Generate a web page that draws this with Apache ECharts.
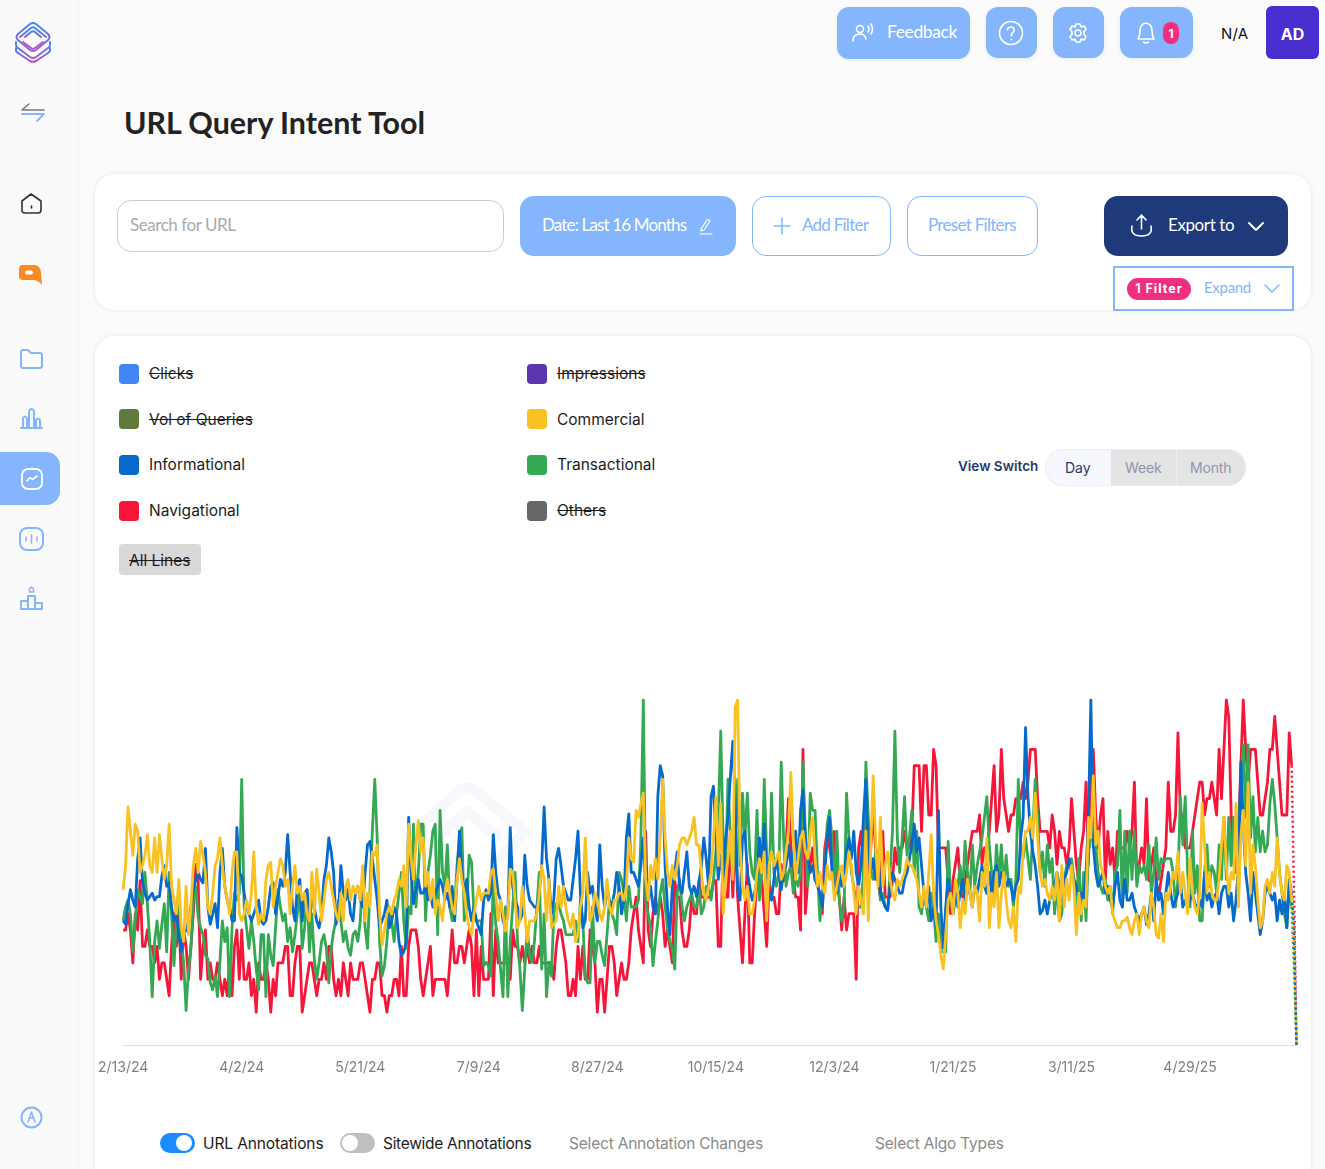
<!DOCTYPE html>
<html>
<head>
<meta charset="utf-8">
<title>URL Query Intent Tool</title>
<script src="https://cdn.jsdelivr.net/npm/echarts@6/dist/echarts.min.js"></script>
<style>
html,body{margin:0;padding:0;width:1325px;height:1169px;overflow:hidden;background:#fbfbfb;font-family:Lato,sans-serif;color:#222}
.a{position:absolute;box-sizing:border-box}
.t{position:absolute;white-space:nowrap;line-height:1}
.btn{position:absolute;box-sizing:border-box;background:#84b5fd;border-radius:12px;box-shadow:0 1px 4px rgba(0,0,0,.08)}
.ol{position:absolute;box-sizing:border-box;background:#fff;border:1px solid #84b5fd;border-radius:14px}
.card{position:absolute;box-sizing:border-box;left:95px;width:1216px;background:#fff;border-radius:20px;box-shadow:0 0 5px rgba(0,0,0,.09)}
.sw{position:absolute;width:20px;height:20px;border-radius:4px}
.lg{position:absolute;white-space:nowrap;line-height:1;font:15.5px Inter,sans-serif;color:#1c1c1c}
.off{text-decoration:line-through}
svg{position:absolute;overflow:visible}
.ic{fill:none;stroke:#84b5fd;stroke-width:2;stroke-linecap:round;stroke-linejoin:round}
.wh{fill:none;stroke:#fff;stroke-width:1.6;stroke-linecap:round;stroke-linejoin:round}
</style>
</head>
<body>
<!-- sidebar -->
<div class="a" style="left:0;top:0;width:76px;height:1169px;background:#fafafa;box-shadow:2px 0 6px rgba(0,0,0,.04)"></div>
<svg style="left:15px;top:22px" width="36" height="40" viewBox="0 0 36 40">
  <defs><linearGradient id="lg" x1="0" y1="0" x2="0" y2="1"><stop offset="0" stop-color="#3f8cf5"/><stop offset="1" stop-color="#b154c8"/></linearGradient></defs>
  <g fill="none" stroke="url(#lg)" stroke-width="2" stroke-linecap="round" stroke-linejoin="round">
    <path d="M15 2 Q18 0 21 2 L33 12 Q36 15 33 18 L21 28 Q18 30 15 28 L3 18 Q0 15 3 12 Z"/>
    <path d="M10 15 L16 10 Q18 8.500 20 10 L26 15"/>
    <path d="M5 15 L16 6 Q18 4.500 20 6 L31 15 M8 20 L16 26 Q18 27.500 20 26 L28 20"/>
    <path d="M1 20 V23 Q1 25 3 26 L15 35 Q18 37 21 35 L33 26 Q35 25 35 23 V20"/>
    <path d="M1 26 V29 Q2 30 3 31 L15 39 Q18 40.500 21 39 L33 31 Q34 30 35 29 V26"/>
  </g>
</svg>
<svg style="left:21px;top:102px" width="24" height="20"><path d="M8 2 L1 8 H23" fill="none" stroke="#777" stroke-width="1.6" stroke-linecap="round" stroke-linejoin="round"/><path d="M1 12 H23 L16 19" fill="none" stroke="#84b5fd" stroke-width="1.8" stroke-linecap="round" stroke-linejoin="round"/></svg>
<svg style="left:21px;top:193px" width="21" height="21"><path d="M1 8 L10 1 L20 8 V17 Q20 20 17 20 H4 Q1 20 1 17 Z M10.5 13 V15" fill="none" stroke="#333" stroke-width="1.6" stroke-linejoin="round" stroke-linecap="round"/></svg>
<svg style="left:19px;top:264px" width="24" height="22"><path d="M4 1 H16 Q21 2 22 8 L23 21 Q19 16 14 16 H4 Q0 16 0 12 V5 Q0 1 4 1 Z" fill="#f88a24"/><rect x="6" y="6.5" width="8" height="4" rx="2" fill="#fff"/></svg>
<svg class="ic" style="left:20px;top:349px" width="23" height="20"><path d="M1 3 Q1 1 3 1 H8 L11 4 H20 Q22 4 22 6 V17 Q22 19 20 19 H3 Q1 19 1 17 Z"/></svg>
<svg class="ic" style="left:20px;top:407px" width="23" height="22"><path d="M1 21 H22 M3 21 V11 Q5 8 7 11 V21 M9 21 V4 Q11.500 0 14 4 V21 M16 21 V13 Q18 10 20 13 V21"/></svg>
<div class="a" style="left:0;top:452px;width:60px;height:53px;background:#84b5fd;border-radius:0 14px 14px 0"></div>
<svg class="wh" style="left:21px;top:468px" width="22" height="22" viewBox="0 0 22 22"><rect x="1" y="1" width="20" height="20" rx="6" stroke-width="1.8"/><path d="M6 13 L9 9.500 L11.500 11.500 L16 8"/></svg>
<svg class="ic" style="left:19px;top:527px" width="25" height="24"><rect x="1" y="1" width="23" height="22" rx="7"/><path d="M7 10 V14 M12.500 8 V16 M18 10 V14" stroke-width="1.500"/></svg>
<svg class="ic" style="left:20px;top:586px" width="23" height="24"><path d="M1 23 H22 V17 H15 V10 H8 V15 H1 Z M8 15 V23 M15 17 V23"/><path d="M11.500 1 L13.500 3 V6 H9.500 V3 Z" stroke-width="1.500"/></svg>
<svg class="ic" style="left:20px;top:1106px" width="23" height="23"><circle cx="11.500" cy="11.500" r="10"/><path d="M8 16 L11.500 6 L15 16 M9.500 12 H13.500" stroke-width="1.500"/></svg>

<!-- top bar -->
<div class="btn" style="left:837px;top:7px;width:133px;height:52px"></div>
<svg class="wh" style="left:852px;top:23px" width="24" height="20"><circle cx="8" cy="6" r="3.500"/><path d="M1 18 Q1 11 8 11 Q13 11 14 16 M16 3 Q18 6 16 9 M19 1 Q22 6 19 11"/></svg>
<div class="t" style="left:887px;top:23px;font-size:17.5px;letter-spacing:-.4px;color:#fff">Feedback</div>
<div class="btn" style="left:986px;top:7px;width:51px;height:51px"></div>
<svg class="wh" style="left:998px;top:20px" width="26" height="26"><circle cx="13" cy="13" r="11.500"/><path d="M9.500 10 Q10 6.500 13.500 7 Q17 8 16 11 Q15 12.500 13.500 14 V16 M13.500 19.500 V19.700"/></svg>
<div class="btn" style="left:1053px;top:7px;width:51px;height:51px"></div>
<svg class="wh" style="left:1067px;top:22px" width="22" height="22" viewBox="0 0 22 22"><circle cx="11" cy="11" r="3"/><path d="M9 2 H13 L14 5 L17 4 L19 7.500 L17 9.500 V12.500 L19 14.500 L17 18 L14 17 L13 20 H9 L8 17 L5 18 L3 14.500 L5 12.500 V9.500 L3 7.500 L5 4 L8 5 Z"/></svg>
<div class="btn" style="left:1120px;top:7px;width:73px;height:51px"></div>
<svg class="wh" style="left:1135px;top:21px" width="22" height="24"><path d="M3 18 Q5 15 5 10 Q5 3 11 2 Q17 3 17 10 Q17 15 19 18 Z M8.500 21 Q11 23 13.500 21"/></svg>
<div class="a" style="left:1163px;top:22px;width:16px;height:22px;border-radius:8px;background:#f0307f"></div>
<div class="t" style="left:1163px;top:26px;width:16px;text-align:center;font:bold 12px Inter,sans-serif;color:#fff">1</div>
<div class="t" style="left:1221px;top:24px;font:15px Inter,sans-serif;letter-spacing:.2px;color:#111">N/A</div>
<div class="a" style="left:1266px;top:6px;width:53px;height:53px;border-radius:6px;background:#4a2fd0"></div>
<div class="t" style="left:1266px;top:24px;width:53px;text-align:center;font:bold 16px Inter,sans-serif;color:#fff">AD</div>

<div class="t" style="left:124px;top:107px;font-size:30.4px;font-weight:700;color:#222">URL Query Intent Tool</div>

<!-- filter card -->
<div class="card" style="top:174px;height:136px"></div>
<div class="a" style="left:117px;top:200px;width:387px;height:52px;border:1px solid #ccc;border-radius:14px;background:#fff"></div>
<div class="t" style="left:130px;top:216px;font-size:17px;letter-spacing:-.45px;color:#aaa">Search for URL</div>
<div class="btn" style="left:520px;top:196px;width:216px;height:60px;border-radius:14px;box-shadow:none"></div>
<div class="t" style="left:542px;top:216px;font-size:17px;letter-spacing:-.85px;color:#fff">Date: Last 16 Months</div>
<svg class="wh" style="left:699px;top:218px" width="14" height="17" viewBox="0 0 14 17"><path d="M2 11 L8 2 Q10 1 11 3 L5 12 L2 13 Z M1 16 H13" stroke-width="1.200"/></svg>
<div class="ol" style="left:752px;top:196px;width:139px;height:60px"></div>
<svg class="ic" style="left:774px;top:218px" width="16" height="16"><path d="M8 0 V16 M0 8 H16" stroke-width="1.500"/></svg>
<div class="t" style="left:802px;top:216px;font-size:17px;letter-spacing:-.75px;color:#84b5fd">Add Filter</div>
<div class="ol" style="left:907px;top:196px;width:131px;height:60px"></div>
<div class="t" style="left:928px;top:216px;font-size:17px;letter-spacing:-.7px;color:#84b5fd">Preset Filters</div>
<div class="a" style="left:1104px;top:196px;width:184px;height:60px;border-radius:14px;background:#1e3a7a"></div>
<svg class="wh" style="left:1130px;top:214px" width="24" height="24"><path d="M11.500 1 V15 M7 6 L11.500 1 L16 6 M2 12 Q0 22 11.500 22 Q23 22 21 12"/></svg>
<div class="t" style="left:1168px;top:216px;font-size:17px;letter-spacing:-.4px;color:#fff">Export to</div>
<svg class="wh" style="left:1248px;top:222px" width="16" height="10"><path d="M1 1 L8 8 L15 1" stroke-width="2"/></svg>
<div class="a" style="left:1113px;top:266px;width:181px;height:45px;background:#fff;border:2px solid #84b5fd"></div>
<div class="a" style="left:1127px;top:278px;width:64px;height:22px;border-radius:11px;background:#f0307f"></div>
<div class="t" style="left:1127px;top:281px;width:64px;text-align:center;font:bold 12.5px Inter,sans-serif;letter-spacing:1px;color:#fff">1 Filter</div>
<div class="t" style="left:1204px;top:280px;font-size:15px;letter-spacing:-.3px;color:#84b5fd">Expand</div>
<svg class="ic" style="left:1264px;top:284px" width="16" height="10"><path d="M1 1 L8 8 L15 1" stroke-width="1.500"/></svg>

<!-- chart card -->
<div class="card" style="top:336px;height:860px"></div>
<svg style="left:405px;top:782px" width="130" height="110" fill="none" stroke="#f7f8fc" stroke-width="11" stroke-linecap="round" stroke-linejoin="round"><path d="M8 50 L55 8 Q62 4 70 8 L120 50 M32 55 L62 30 L92 55"/><path d="M8 50 L60 98 M120 50 L95 75"/></svg>

<div class="sw" style="left:119px;top:364px;background:#4285f4"></div><div class="lg off" style="left:149px;top:364px">Clicks</div>
<div class="sw" style="left:527px;top:364px;background:#5c35b0"></div><div class="lg off" style="left:557px;top:364px">Impressions</div>
<div class="sw" style="left:119px;top:409px;background:#5f7a3a"></div><div class="lg off" style="left:149px;top:410px">Vol of Queries</div>
<div class="sw" style="left:527px;top:409px;background:#f9c122"></div><div class="lg" style="left:557px;top:410px">Commercial</div>
<div class="sw" style="left:119px;top:455px;background:#0669cc"></div><div class="lg" style="left:149px;top:455px">Informational</div>
<div class="sw" style="left:527px;top:455px;background:#34a853"></div><div class="lg" style="left:557px;top:455px">Transactional</div>
<div class="sw" style="left:119px;top:501px;background:#f5163a"></div><div class="lg" style="left:149px;top:501px">Navigational</div>
<div class="sw" style="left:527px;top:501px;background:#666"></div><div class="lg off" style="left:557px;top:501px">Others</div>
<div class="a" style="left:119px;top:544px;width:82px;height:31px;background:#d9d9d9;border-radius:4px"></div>
<div class="lg off" style="left:129px;top:551px">All Lines</div>

<div class="t" style="left:958px;top:458px;font:600 13.5px Inter,sans-serif;color:#1e3a6e">View Switch</div>
<div class="a" style="left:1045px;top:449px;width:201px;height:37px;border-radius:18px;background:#e4e4e4;border:1px solid #ececf2;overflow:hidden"><div class="a" style="left:0;top:0;width:65px;height:37px;background:#f6f8fd"></div><div class="a" style="left:130px;top:0;width:1px;height:37px;background:#eee"></div></div>
<div class="t" style="left:1065px;top:459px;font:14px Inter,sans-serif;color:#1e3a6e">Day</div>
<div class="t" style="left:1125px;top:459px;font:14px Inter,sans-serif;letter-spacing:-.15px;color:#8d96ad">Week</div>
<div class="t" style="left:1190px;top:459px;font:14px Inter,sans-serif;letter-spacing:-.15px;color:#8d96ad">Month</div>

<div id="main" class="a" style="left:95px;top:680px;width:1216px;height:410px"></div>

<div class="a" style="left:160px;top:1133px;width:35px;height:20px;border-radius:10px;background:#1a8cff"></div>
<div class="a" style="left:176px;top:1135px;width:16px;height:16px;border-radius:8px;background:#fff"></div>
<div class="t" style="left:203px;top:1134px;font:15.5px Inter,sans-serif;letter-spacing:-.12px;color:#1c1c1c">URL Annotations</div>
<div class="a" style="left:340px;top:1133px;width:35px;height:20px;border-radius:10px;background:#bfbfbf"></div>
<div class="a" style="left:342px;top:1135px;width:16px;height:16px;border-radius:8px;background:#fff"></div>
<div class="t" style="left:383px;top:1134px;font:15.5px Inter,sans-serif;letter-spacing:-.3px;color:#1c1c1c">Sitewide Annotations</div>
<div class="t" style="left:569px;top:1134px;font:15.5px Inter,sans-serif;letter-spacing:-.2px;color:#8a8a8a">Select Annotation Changes</div>
<div class="t" style="left:875px;top:1134px;font:15.5px Inter,sans-serif;letter-spacing:-.2px;color:#8a8a8a">Select Algo Types</div>

<script>
// values, one per day from 2/13/24
// navigational is in whole steps, the other three are % of their own peak
var navigational = [
7,7,8,7,5,8,7,10,6,6,7,6,6,5,6,4,5,5,4,3,
6,8,6,8,4,7,6,4,6,8,11,10,4,6,7,4,5,4,4,5,
4,3,4,3,5,3,6,7,4,7,4,4,5,3,4,2,5,4,4,5,
4,2,4,3,5,5,5,6,6,3,3,5,6,6,2,3,4,5,5,4,
3,4,4,5,4,6,6,4,3,4,3,5,4,3,5,4,4,4,5,5,
4,3,2,4,4,5,5,3,3,2,3,3,4,4,3,6,3,3,6,7,
7,7,6,4,3,4,5,6,3,4,4,4,4,4,3,5,7,5,5,6,
6,5,6,7,6,3,7,3,6,4,4,4,8,3,7,5,5,5,5,5,
4,7,6,6,5,6,5,6,5,6,5,5,6,5,5,5,5,5,4,6,
7,7,6,5,3,3,4,3,6,4,6,4,4,7,6,5,2,4,4,2,
4,6,6,5,3,4,5,4,4,5,7,8,9,7,6,5,13,7,6,8,
9,8,9,8,6,7,6,5,10,9,9,7,6,6,7,9,8,8,10,9,
9,9,9,9,10,10,6,6,12,9,9,13,9,13,9,7,5,8,11,5,
5,8,10,10,10,8,6,10,9,9,8,8,11,10,12,15,12,10,9,9,
7,18,8,10,11,12,10,10,9,8,12,13,12,11,13,10,9,7,9,7,
8,8,8,4,12,13,11,15,9,12,14,12,10,9,13,9,9,9,10,12,
11,12,12,13,12,12,13,17,17,17,13,17,17,14,14,18,17,12,12,12,
12,10,8,10,11,12,10,9,10,11,12,13,13,13,14,11,12,12,13,15,
17,13,14,18,15,14,13,14,14,15,15,15,16,15,16,18,18,18,15,13,
13,13,13,12,14,13,11,13,12,12,11,12,15,13,11,10,12,13,16,11,
18,18,14,12,14,15,10,13,11,12,10,13,12,12,12,13,12,13,16,10,
11,12,11,15,10,11,12,10,9,10,11,12,16,13,13,14,19,14,14,12,
12,12,13,14,15,16,16,14,15,15,16,15,14,18,15,18,21,20,14,11,
12,13,17,21,18,16,18,18,18,16,14,14,15,16,18,18,20,18,16,14,
14,14,19,17,9,0];
var transactional = [
36,40,42,38,27,36,45,43,41,50,41,30,14,30,36,28,35,41,27,50,
38,23,36,44,30,24,10,22,28,42,46,37,34,32,26,25,18,16,20,14,
24,36,30,34,14,34,44,42,44,77,40,34,28,36,30,22,16,32,32,14,
32,26,23,34,45,40,36,38,30,34,27,32,38,45,28,34,45,27,38,25,
19,24,30,32,28,18,28,33,36,42,36,30,33,28,26,32,33,30,36,50,
34,28,45,62,77,60,30,20,23,30,40,36,30,38,44,50,36,28,40,38,
64,40,50,64,64,36,50,55,62,64,32,68,50,46,58,40,36,40,52,60,
63,36,40,55,53,38,36,36,36,23,24,23,20,50,35,30,22,14,40,14,
30,40,50,30,22,10,22,34,26,24,30,40,50,22,38,14,24,20,38,41,
41,38,36,32,32,32,32,36,30,42,36,20,18,18,40,24,30,30,26,23,
32,42,38,36,32,50,48,44,36,46,40,40,40,42,60,100,42,38,34,23,
30,36,44,48,40,34,30,28,22,44,48,40,36,40,42,44,40,40,46,38,
40,46,46,42,48,56,66,91,60,50,77,60,50,60,77,52,73,60,73,56,
50,48,68,42,50,77,55,46,73,50,46,50,82,60,46,50,52,44,48,46,
50,82,60,46,73,68,68,50,36,44,50,64,68,60,44,62,42,36,40,73,
60,50,46,40,40,40,50,82,66,50,48,56,52,42,44,40,39,50,62,91,
60,50,60,72,55,60,68,50,62,40,38,44,40,36,44,40,30,38,27,27,
27,59,44,38,42,46,52,44,59,50,44,58,46,52,56,60,66,72,58,50,
44,58,48,58,46,55,46,48,40,48,77,58,54,60,54,48,62,77,66,50,
56,46,58,50,54,38,46,36,38,48,52,52,54,48,40,54,36,50,36,56,
60,72,58,50,46,44,48,42,46,38,50,52,68,40,62,44,62,48,62,46,
52,50,52,48,58,44,50,60,48,54,53,54,54,54,50,40,48,72,58,72,
50,40,62,44,52,36,36,50,58,46,52,50,44,58,48,66,48,66,52,66,
50,62,76,87,66,87,60,72,56,66,56,62,56,58,70,77,70,60,50,44,
38,34,46,40,22,0];
var informational = [
36,35,41,45,42,40,54,60,47,44,42,43,44,42,43,43,49,52,46,47,
40,36,38,32,27,33,33,36,40,45,48,50,48,47,57,40,35,38,41,34,
50,57,46,42,40,36,36,63,50,49,44,40,38,36,38,40,42,36,35,36,
40,46,47,38,43,48,46,50,61,50,40,36,46,48,36,44,45,36,42,40,
36,34,38,48,52,60,56,50,35,38,52,44,42,45,38,36,44,46,42,40,
50,58,59,54,48,42,34,36,38,42,34,36,40,38,30,26,27,30,66,50,
41,45,48,44,44,46,42,44,40,44,46,48,46,42,44,40,46,36,48,62,
50,44,48,40,36,40,36,34,32,42,45,42,44,61,50,44,42,36,34,38,
63,46,42,40,36,38,55,46,42,41,40,40,44,52,69,54,48,38,42,54,
57,52,46,44,42,42,48,54,62,44,34,36,50,44,46,40,36,58,46,40,
45,42,40,44,50,46,38,42,60,67,50,50,48,46,52,60,48,42,46,40,
38,72,81,78,52,40,32,46,50,56,46,44,50,56,46,44,46,43,47,52,
60,54,46,72,75,60,48,55,48,60,66,78,88,70,45,42,60,62,50,46,
42,44,48,60,52,64,50,44,42,48,54,50,45,50,52,58,52,55,62,50,
68,74,60,54,50,52,48,46,44,40,50,60,66,50,46,44,50,46,48,56,
60,54,62,50,46,52,66,77,56,50,54,48,56,44,42,40,39,46,50,48,
46,44,44,48,50,54,58,64,56,60,52,44,40,46,36,40,34,68,40,28,
40,48,44,38,46,40,44,48,42,46,44,40,46,44,48,52,46,44,50,44,
50,52,46,50,48,46,48,46,42,46,48,60,66,92,72,62,56,52,46,38,
39,42,38,42,44,46,50,46,42,48,50,54,50,48,46,42,44,42,50,66,
100,58,50,46,48,50,44,46,42,40,46,50,42,40,48,42,42,44,40,38,
36,38,40,35,38,44,36,48,42,44,38,44,50,44,40,42,44,48,40,42,
40,42,44,41,40,42,40,50,42,44,40,43,44,38,44,46,46,40,44,36,
42,52,82,64,50,44,36,50,44,38,32,36,44,46,44,42,44,36,42,38,
44,34,48,44,34,0];
var commercial = [
45,52,69,62,55,64,62,50,52,55,61,52,50,60,50,61,54,48,52,64,
46,42,38,48,34,30,46,32,40,52,57,50,59,55,50,40,38,44,52,54,
60,52,46,42,38,50,56,56,38,36,38,42,38,44,56,40,35,38,36,48,
52,53,40,46,50,54,52,46,48,38,46,52,44,46,42,44,38,36,50,38,
51,44,36,42,48,50,46,42,38,36,44,36,46,48,42,46,44,46,42,52,
36,44,40,56,55,58,38,29,33,38,40,38,42,44,48,46,52,40,64,54,
48,58,65,56,60,46,50,42,48,38,42,40,36,44,48,44,40,38,48,54,
48,44,38,34,32,38,42,46,42,44,44,44,50,51,44,36,42,38,33,38,
51,50,42,34,36,46,38,30,36,36,36,38,44,52,48,36,48,34,35,36,
46,40,46,40,36,34,38,30,32,40,44,60,44,36,38,44,42,38,36,40,
48,40,38,42,42,44,44,42,46,60,54,53,68,66,70,73,48,42,52,48,
54,48,60,77,60,50,46,52,48,52,58,60,60,58,60,62,66,58,58,50,
44,42,46,50,60,72,52,70,38,48,54,62,48,98,100,58,46,42,46,38,
38,42,50,54,50,56,36,52,56,52,54,56,48,50,56,62,79,60,48,54,
60,62,56,54,62,66,54,46,50,46,44,52,48,50,42,46,50,52,46,50,
56,52,44,38,46,42,38,62,36,56,78,60,46,66,46,52,56,48,44,42,
48,46,48,50,54,52,52,50,48,44,40,46,40,50,61,44,36,32,26,22,
32,42,44,38,48,44,34,42,38,48,44,40,46,44,36,50,46,60,34,44,
40,50,34,44,50,42,36,34,40,30,46,44,56,62,62,66,60,73,60,50,
46,48,44,42,46,42,50,36,52,40,48,42,52,46,32,44,38,42,40,66,
60,78,58,62,52,50,46,44,46,38,36,34,34,36,36,37,34,32,36,38,
32,38,40,36,34,44,40,32,31,38,30,44,42,46,50,48,56,44,50,44,
38,54,44,40,38,44,70,58,44,50,44,42,42,48,58,66,52,44,50,48,
70,40,60,68,52,76,44,58,52,42,34,36,46,48,44,50,46,60,50,44,
42,52,50,42,26,0];

var seriesNames = ['Navigational', 'Transactional', 'Informational', 'Commercial'];
var seriesColors = ['#f5163a', '#34a853', '#0669cc', '#f9c122'];
var seriesValues = [navigational, transactional, informational, commercial];
var lastSolid = 483; // the last days are still partial, drawn dotted

var categories = [];
for (var i = 0; i < 486; i++) {
	var d = new Date(Date.UTC(2024, 1, 13 + i));
	categories.push((d.getUTCMonth() + 1) + '/' + d.getUTCDate() + '/' + String(d.getUTCFullYear()).slice(2));
}

var series = [];
seriesValues.forEach(function (vals, k) {
	var axis = k === 0 ? 0 : 1;
	series.push({
		name: seriesNames[k], type: 'line', yAxisIndex: axis, showSymbol: false, z: 2 + k,
		lineStyle: { width: 2.8, color: seriesColors[k], join: 'round' },
		itemStyle: { color: seriesColors[k] },
		data: vals.slice(0, lastSolid + 1)
	});
	series.push({
		name: seriesNames[k] + ' partial', type: 'line', yAxisIndex: axis, showSymbol: false, z: 2 + k,
		lineStyle: { width: 2.5, color: seriesColors[k], type: [2, 3] },
		itemStyle: { color: seriesColors[k] },
		data: vals.map(function (v, i) { return i < lastSolid ? null : v; })
	});
});

var myChart = echarts.init(document.getElementById('main'));
myChart.setOption({
	animation: false,
	grid: { left: 28, right: 14.5, top: 20, height: 345 },
	tooltip: { trigger: 'axis' },
	xAxis: {
		type: 'category', boundaryGap: false, data: categories,
		axisLine: { lineStyle: { color: '#e0e0e0', width: 1 } },
		axisTick: { show: false },
		axisLabel: { interval: 48, margin: 16, fontSize: 14, color: '#808080', fontFamily: 'Inter, sans-serif' }
	},
	yAxis: [
		{ type: 'value', min: 0, max: 21, show: false },
		{ type: 'value', min: 0, max: 100, show: false }
	],
	series: series
});
</script>
</body>
</html>
